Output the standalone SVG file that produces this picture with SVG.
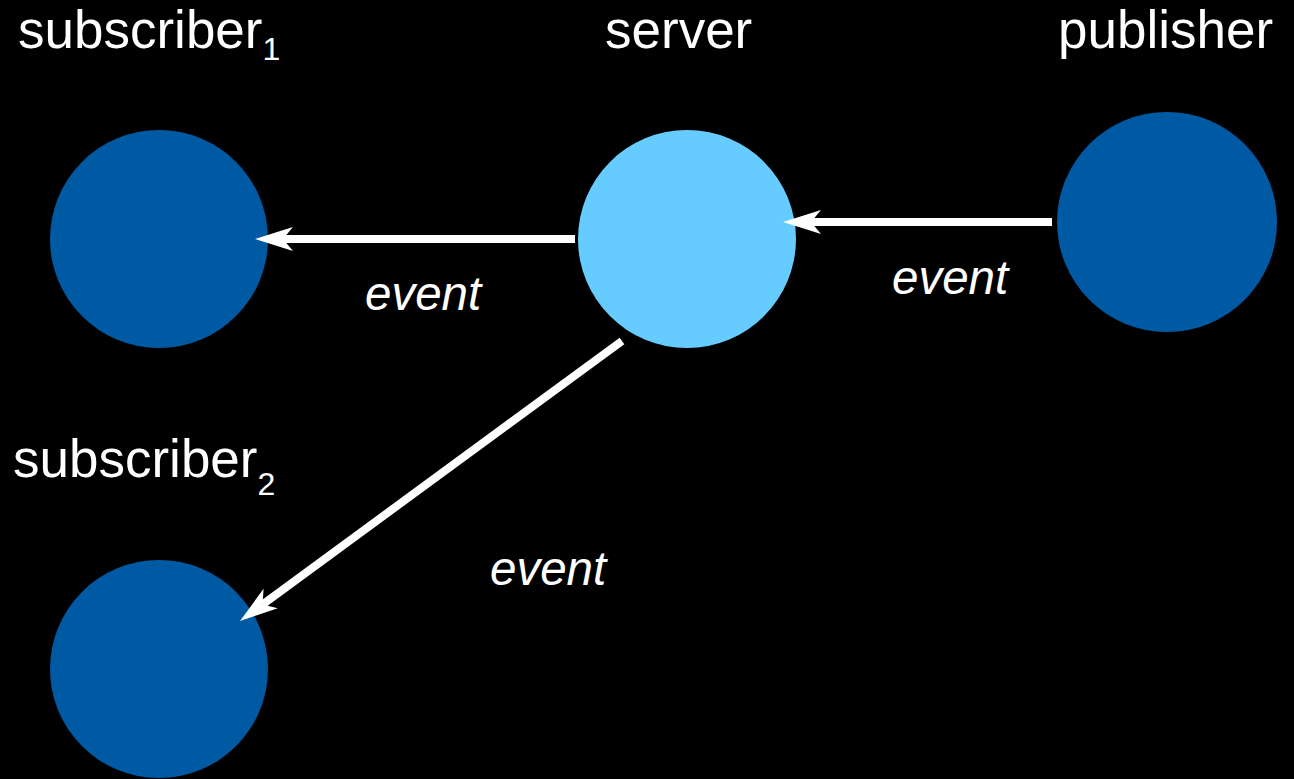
<svg xmlns="http://www.w3.org/2000/svg" width="1294" height="779" viewBox="0 0 1294 779">
  <defs>
    <!-- arrowhead anchored at its notch so the shaft stops inside it -->
    <marker id="tip" markerUnits="userSpaceOnUse" markerWidth="42" markerHeight="28" refX="12" refY="13" orient="auto" overflow="visible">
      <path d="M40,13 L2,1 L12,13 L2,25 Z" fill="#fff"/>
    </marker>
  </defs>
  <style>
    .label { font-family: "Liberation Sans", Arial, sans-serif; fill: #fff; font-size: 53px; }
    .sub { font-size: 32px; }
    .event { font-family: "Liberation Sans", Arial, sans-serif; fill: #fff; font-size: 47.5px; font-style: italic; }
    .dark { fill: #005aa3; }
    .light { fill: #66ccff; }
    .wire { stroke: #fff; stroke-width: 8; fill: none; }
  </style>
  <rect width="1294" height="779" fill="#000"/>

  <g id="subscriber1">
    <circle class="dark" cx="159" cy="239" r="109"/>
    <text class="label" x="18" y="48">subscriber<tspan class="sub" dy="12">1</tspan></text>
  </g>

  <g id="server">
    <circle class="light" cx="687" cy="239" r="109"/>
    <text class="label" x="605" y="48">server</text>
  </g>

  <g id="publisher">
    <circle class="dark" cx="1167" cy="222" r="110"/>
    <text class="label" x="1058" y="48">publisher</text>
  </g>

  <g id="subscriber2">
    <circle class="dark" cx="159" cy="669" r="109"/>
    <text class="label" x="13" y="477">subscriber<tspan class="sub" dy="18">2</tspan></text>
  </g>

  <g id="connectors">
    <line class="wire" x1="575" y1="239" x2="283" y2="239" marker-end="url(#tip)"/>
    <line class="wire" x1="1052" y1="222" x2="811" y2="222" marker-end="url(#tip)"/>
    <line class="wire" x1="622" y1="341" x2="262.6" y2="604.4" marker-end="url(#tip)"/>
    <text class="event" x="365" y="310">event</text>
    <text class="event" x="892" y="294">event</text>
    <text class="event" x="490" y="585">event</text>
  </g>
</svg>
